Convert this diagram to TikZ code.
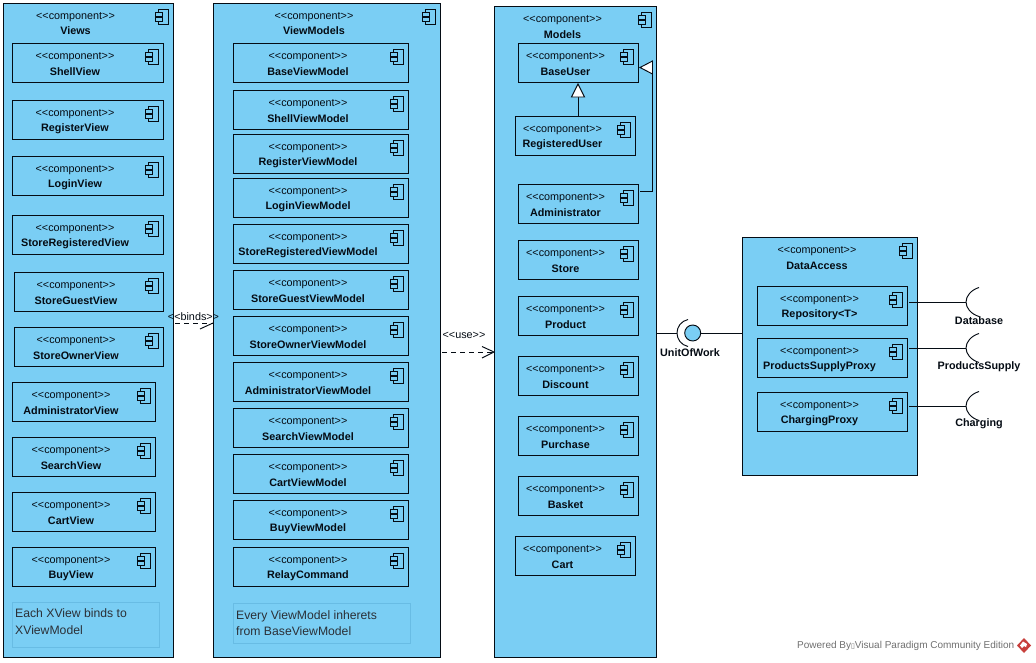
\documentclass[tikz,border=0pt]{standalone}
\usepackage{fontspec}
\setmainfont{Liberation Sans}
\newfontfamily\dejavu{DejaVu Sans}
\usetikzlibrary{arrows.meta}
\definecolor{compfill}{HTML}{7ACEF4}
\definecolor{notefill}{HTML}{7ACEF4}
\definecolor{noteline}{HTML}{68BCE4}
\definecolor{ink}{HTML}{050C14}
\definecolor{footgray}{HTML}{707070}
\definecolor{logored}{HTML}{C8403C}
\tikzset{
  x=1pt,y=-1pt,
  compbox/.style={draw=ink,fill=compfill,line width=.95pt,inner sep=0pt,outer sep=0pt},
  notebox/.style={draw=noteline,fill=notefill,line width=.6pt,inner sep=0pt,outer sep=0pt},
  stereo/.style={font=\fontsize{10.8}{12}\selectfont,text=ink,inner sep=0pt},
  cname/.style={font=\fontsize{10.8}{12}\selectfont\bfseries,text=ink,inner sep=0pt},
  notetext/.style={font=\fontsize{12.2}{16}\selectfont,text=ink!85,inner sep=0pt,anchor=west},
  wire/.style={draw=ink,line width=.95pt},
  depline/.style={draw=ink,line width=.95pt,dash pattern=on 5pt off 4pt},
  gentri/.style={draw=ink,fill=white,line width=.95pt},
  ifacelabel/.style={font=\fontsize{10.8}{12}\selectfont\bfseries,text=ink,inner sep=0pt},
  deplabel/.style={font=\fontsize{10.8}{12}\selectfont,text=ink,inner sep=0pt},
  iconpart/.style={draw=ink,fill=compfill,line width=.8pt},
}
\def\nameoff{29}
\newcommand{\cbox}[6]{%
  \node[compbox,minimum width=#4-#2,minimum height=#5-#3] (#1) at ({(#2+#4)/2},{(#3+#5)/2}) {};
  \node[stereo] (#1-s) at ({(#2+#4)/2-12.5},{#3+14.2}) {<{}<component>{}>};
  \node[cname] (#1-n) at ({(#2+#4)/2-12.5},{#3+\nameoff}) {#6};
  \draw[iconpart] ({#4-15},{#3+6}) rectangle ({#4-5},{#3+21});
  \draw[iconpart] ({#4-18},{#3+9}) rectangle ({#4-11},{#3+13});
  \draw[iconpart] ({#4-18},{#3+14.5}) rectangle ({#4-11},{#3+18.5});
}
\begin{document}
\begin{tikzpicture}
\useasboundingbox[fill=white] (0,0) rectangle (1036,662);
% Views
\def\nameoff{28}
\cbox{views}{3}{3}{173}{657}{Views}
\def\nameoff{29}
\cbox{shellv}{12}{43}{163}{82}{ShellView}
\cbox{registerv}{12}{100}{163}{139}{RegisterView}
\cbox{loginv}{12}{156}{163}{195}{LoginView}
\cbox{storeregv}{12}{215}{163}{254}{StoreRegisteredView}
\cbox{storeguestv}{14}{272}{163}{311}{StoreGuestView}
\cbox{storeownerv}{14}{327}{163}{366}{StoreOwnerView}
\cbox{adminv}{12}{382}{155}{421}{AdministratorView}
\cbox{searchv}{12}{437}{155}{476}{SearchView}
\cbox{cartv}{12}{492}{155}{531}{CartView}
\cbox{buyv}{12}{547}{155}{586}{BuyView}
\node[notebox,minimum width=147,minimum height=45] (noteviews) at (85.5,624.5) {};
\node[notetext] (noteviews-a) at (15,613) {Each XView binds to};
\node[notetext] (noteviews-b) at (15,630) {XViewModel};
% ViewModels
\def\nameoff{28}
\cbox{vms}{213}{3}{440}{657}{ViewModels}
\def\nameoff{29}
\cbox{basevm}{233}{43}{408}{82}{BaseViewModel}
\cbox{shellvm}{233}{90}{408}{129}{ShellViewModel}
\cbox{registervm}{233}{134}{408}{173}{RegisterViewModel}
\cbox{loginvm}{233}{178}{408}{217}{LoginViewModel}
\cbox{storeregvm}{233}{224}{408}{263}{StoreRegisteredViewModel}
\cbox{storeguestvm}{233}{270}{408}{309}{StoreGuestViewModel}
\cbox{storeownervm}{233}{316}{408}{355}{StoreOwnerViewModel}
\cbox{adminvm}{233}{362}{408}{401}{AdministratorViewModel}
\cbox{searchvm}{233}{408}{408}{447}{SearchViewModel}
\cbox{cartvm}{233}{454}{408}{493}{CartViewModel}
\cbox{buyvm}{233}{500}{408}{539}{BuyViewModel}
\cbox{relay}{233}{547}{408}{586}{RelayCommand}
\node[notebox,minimum width=177,minimum height=40] (notevms) at (321.5,623.5) {};
\node[notetext] (notevms-a) at (236,616.5) {Every ViewModel inherets};
\node[notetext] (notevms-b) at (236,631.5) {from BaseViewModel};
% Models
\cbox{models}{494}{6}{656}{657}{Models}
\cbox{baseuser}{518}{43}{638}{82}{BaseUser}
\cbox{reguser}{515}{116}{635}{155}{RegisteredUser}
\cbox{admin}{518}{184}{638}{223}{Administrator}
\cbox{store}{518}{240}{638}{279}{Store}
\cbox{product}{518}{296}{638}{335}{Product}
\cbox{discount}{518}{356}{638}{395}{Discount}
\cbox{purchase}{518}{416}{638}{455}{Purchase}
\cbox{basket}{518}{476}{638}{515}{Basket}
\cbox{cart}{515}{536}{635}{575}{Cart}
% DataAccess
\cbox{data}{742}{237}{917}{475}{DataAccess}
\cbox{repo}{757}{286}{907}{325}{Repository<T>}
\cbox{supply}{757}{338}{907}{377}{ProductsSupplyProxy}
\cbox{charging}{757}{392}{907}{431}{ChargingProxy}
% Generalisations
\coordinate (tipa) at (578,84);
\coordinate (basea) at (578,97);
\draw[wire] (reguser.north -| basea) -- (basea);
\draw[gentri] (tipa) -- (571.5,97) -- (584.5,97) -- cycle;
\coordinate (elbow) at (652,191);
\coordinate (tipb) at (640,67.5);
\coordinate (baseb) at (652.5,67.5);
\draw[wire,shorten <=2pt] (admin.east |- elbow) -- (elbow) -- (elbow |- baseb);
\draw[gentri] (tipb) -- (652.5,61) -- (652.5,74) -- cycle;
% Dependencies
\coordinate (bindy) at (0,323);
\draw[depline,shorten <=2pt] (views.east |- bindy) -- (vms.west |- bindy);
\draw[draw=ink,line width=.95pt] (200,329) -- (vms.west |- bindy);
\node[deplabel] (bindlabel) at (193.5,317) {<{}<binds>{}>};
\coordinate (usey) at (0,352);
\draw[depline,shorten <=2pt] (vms.east |- usey) -- (models.west |- usey);
\draw[draw=ink,line width=.95pt] (482,346.5) -- (models.west |- usey) -- (482,358);
\node[deplabel] (uselabel) at (464,335) {<{}<use>{}>};
% Provided interface
\node[circle,draw=ink,fill=compfill,line width=.95pt,minimum size=16,inner sep=0pt,outer sep=0pt] (uow) at (692.7,333) {};
\coordinate (uowarc) at (677,333);
\draw[wire] (688,319.5) .. controls (681,321) and (677,327) .. (uowarc) .. controls (677,339) and (681,345) .. (688,346.5);
\draw[wire] (models.east |- uow) -- (uowarc);
\draw[wire] (uow.east) -- (data.west |- uow);
\node[ifacelabel] (uowlabel) at (690,352.5) {UnitOfWork};
% Required interfaces
\coordinate (sock1) at (966,302);
\coordinate (sock2) at (966,348);
\coordinate (sock3) at (966,406);
\foreach \s/\b in {sock1/repo,sock2/supply,sock3/charging}{
  \draw[wire,shorten <=2pt] (\b.east |- \s) -- (\s);
  \begin{scope}[shift={(\s)}]
    \draw[wire] (13,-14.5) .. controls (5,-12) and (0,-6) .. (0,0) .. controls (0,6) and (5,12) .. (13,14.5);
  \end{scope}
}
\node[ifacelabel] (dblabel) at (979,320.5) {Database};
\node[ifacelabel] (pslabel) at (979,366.5) {ProductsSupply};
\node[ifacelabel] (chlabel) at (979,423.5) {Charging};
% Footer
\node[font=\fontsize{10}{12}\selectfont,text=footgray,inner sep=0pt,anchor=west] (footer) at (797,646) {Powered By{\dejavu\fontsize{7}{8}\selectfont ▯}Visual Paradigm Community Edition};
\fill[logored] (1024,638) -- (1031,645.5) -- (1024,653) -- (1017,645.5) -- cycle;
\fill[white] (1023,641.5) -- (1027,644) -- (1026,647) -- (1024,646) -- (1022,648) -- (1020,645.5) -- cycle;
\end{tikzpicture}
\end{document}
